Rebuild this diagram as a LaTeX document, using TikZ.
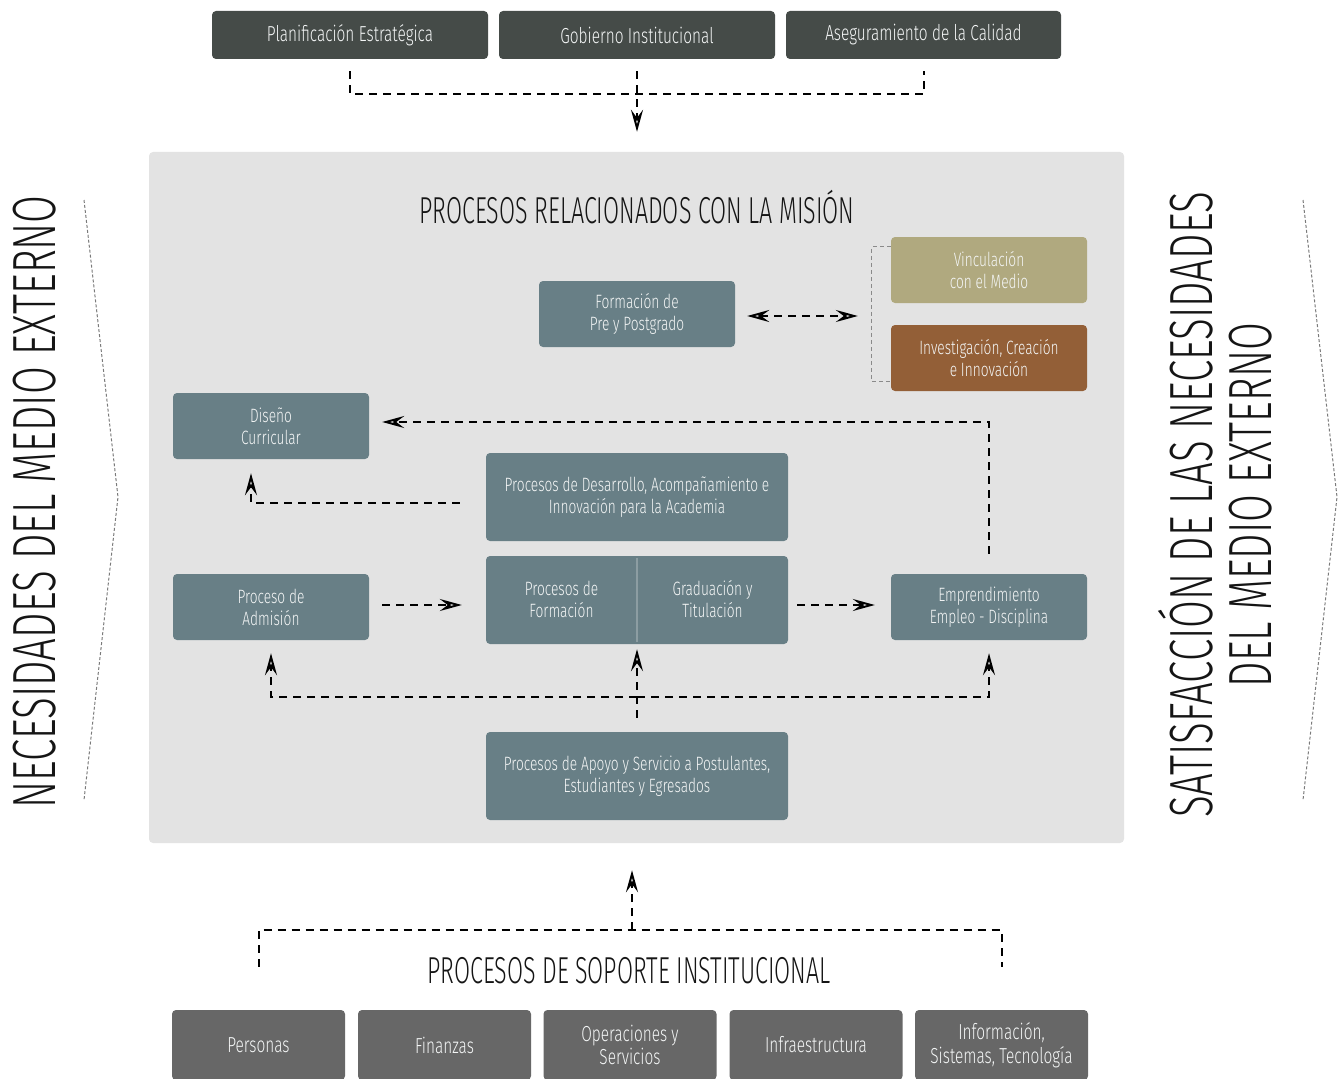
\documentclass[tikz,border=0pt]{standalone}
\usepackage{fontspec}
\setmainfont{Fira Sans Light}[FakeStretch=0.71]
\newfontfamily\capsfont{Fira Sans Light}[FakeStretch=0.62]
\newfontfamily\sidefont{Fira Sans Light}[FakeStretch=0.66]
\usetikzlibrary{arrows.meta,calc}
\definecolor{topgrey}{HTML}{454B48}
\definecolor{panelgrey}{HTML}{E3E3E3}
\definecolor{slate}{HTML}{687F86}
\definecolor{khaki}{HTML}{B0A97F}
\definecolor{brown}{HTML}{935F37}
\definecolor{basegrey}{HTML}{676767}
\definecolor{boxtext}{HTML}{F4F6F6}
\definecolor{divider}{HTML}{8C9DA2}
\definecolor{bracketgrey}{HTML}{8A8A8A}
\definecolor{chevgrey}{HTML}{7A7A7A}
\definecolor{titleink}{HTML}{151515}
\tikzset{
  hollow/.tip={Stealth[open,fill=white,length=22pt,width=12pt,inset=8pt,line width=2pt]},
  box/.style={rounded corners=4pt, inner sep=0pt, align=center, text=boxtext,
              font=\fontsize{19.3}{22}\selectfont},
  slatebox/.style={box, fill=slate, minimum width=196pt, minimum height=66pt},
  widebox/.style={box, fill=slate, minimum width=302pt, minimum height=88pt},
  topbox/.style={box, fill=topgrey, minimum width=276pt, minimum height=48pt,
                 font=\fontsize{21.7}{24}\selectfont},
  basebox/.style={box, fill=basegrey, minimum width=173pt, minimum height=70pt,
                  font=\fontsize{21.7}{23.5}\selectfont},
  conn/.style={draw=black, line width=2pt, dash pattern=on 8pt off 6pt},
  bracket/.style={draw=bracketgrey, line width=1.3pt, dash pattern=on 4pt off 3pt},
  chev/.style={draw=chevgrey, line width=1pt, dash pattern=on 3pt off 2pt},
  heading/.style={text=titleink, inner sep=0pt, font=\capsfont\fontsize{37.5}{40}\selectfont},
  sidetext/.style={text=titleink, inner sep=0pt, align=center, rotate=90,
                   font=\sidefont\fontsize{61}{59}\selectfont}
}
\begin{document}
\begin{tikzpicture}[x=1pt,y=1pt]
\useasboundingbox (0,0) rectangle (1340,-1078);

% strategic processes
\node[topbox] (plan) at (350,-35) {Planificación Estratégica};
\node[topbox] (gob)  at (637,-35) {Gobierno Institucional};
\node[topbox, minimum width=275pt] (aseg) at (923.5,-35) {Aseguramiento de la Calidad};

% mission panel
\node[fill=panelgrey, rounded corners=4pt, inner sep=0pt,
      minimum width=975pt, minimum height=691pt] (panel) at (636.5,-497.5) {};
\node[heading] (mision) at (637,-207) {PROCESOS RELACIONADOS CON LA MISIÓN};

\node[slatebox] (form) at (637,-314) {Formación de\\Pre y Postgrado};
\node[slatebox, fill=khaki] (vinc) at (989,-270) {Vinculación\\con el Medio};
\node[slatebox, fill=brown] (inv) at (989,-358) {Investigación, Creación\\e Innovación};
\node[slatebox] (dis) at (271,-426) {Diseño\\Curricular};
\node[widebox] (desa) at (637,-497) {Procesos de Desarrollo, Acompañamiento e\\Innovación para la Academia};
\node[widebox] (formgrad) at (637,-600) {};
\node[box] (pf) at (561.5,-599) {Procesos de\\Formación};
\node[box] (grad) at (712.5,-599) {Graduación y\\Titulación};
\draw[divider, line width=1.2pt] ([yshift=-2pt]formgrad.north) -- ([yshift=2pt]formgrad.south);
\node[slatebox] (adm) at (271,-607) {Proceso de\\Admisión};
\node[slatebox] (emp) at (989,-607) {Emprendimiento\\Empleo - Disciplina};
\node[widebox] (apoyo) at (637,-776) {Procesos de Apoyo y Servicio a Postulantes,\\Estudiantes y Egresados};

% support processes
\node[heading] (soporte) at (629,-971) {PROCESOS DE SOPORTE INSTITUCIONAL};
\node[basebox] (pers)  at (258.5,-1045) {Personas};
\node[basebox] (fin)   at (444.5,-1045) {Finanzas};
\node[basebox] (oper)  at (630,-1045) {Operaciones y\\Servicios};
\node[basebox] (infra) at (816,-1045) {Infraestructura};
\node[basebox] (info)  at (1001.5,-1045) {Información,\\Sistemas, Tecnología};

% side captions
\node[sidetext] (necesidades) at (35,-502) {NECESIDADES DEL MEDIO EXTERNO};
\node[sidetext] (satisfaccion) at (1215,-505) {SATISFACCIÓN DE LAS NECESIDADES\\DEL MEDIO EXTERNO};
\draw[chev] (84,-200) -- (118,-497) -- (84,-800);
\draw[chev] (1303,-200) -- (1337,-497) -- (1303,-800);

% connectors: strategic processes into the panel
\draw[conn] ([yshift=-12pt]plan.south) -- ++(0,-23) -| ([yshift=-12pt]aseg.south);
\draw[conn,-hollow] ([yshift=-12pt]gob.south) -- ($(gob.south |- panel.north)+(0,20)$);

% research / outreach bracket
\draw[bracket] ([yshift=-10pt]vinc.north west) -- ++(-19,0) |- ([yshift=10pt]inv.south west);
\coordinate (brk) at ($(vinc.west)!0.5!(inv.west)+(-19,0)$);
\draw[conn,hollow-hollow] ([xshift=12pt,yshift=-2pt]form.east) -- ([xshift=-14pt,yshift=-2pt]brk);

% feedback loops towards curricular design
\draw[conn,-hollow] ([yshift=20pt]emp.north) |- ([xshift=13pt,yshift=4pt]dis.east);
\draw[conn,-hollow] ([xshift=-26pt,yshift=-6pt]desa.west) -| ([xshift=-20pt,yshift=-14pt]dis.south);

% main flow
\draw[conn,-hollow] ([xshift=13pt,yshift=2pt]adm.east) -- ([xshift=-24pt,yshift=2pt]adm.east -| formgrad.west);
\draw[conn,-hollow] ([xshift=9pt,yshift=2pt]emp.west -| formgrad.east) -- ([xshift=-16pt,yshift=2pt]emp.west);

% support services bus
\coordinate (bus) at ($(apoyo.north)+(0,35)$);
\draw[conn,-hollow] ([yshift=14pt]apoyo.north) -- ([yshift=-5pt]formgrad.south);
\draw[conn,-hollow] (bus) -| ([yshift=-13pt]adm.south);
\draw[conn,-hollow] (bus) -| ([yshift=-13pt]emp.south);

% institutional support into the panel
\coordinate (sbus) at (632,-930);
\draw[conn] ([yshift=43pt]pers.north) |- (sbus) -| ([yshift=43pt]info.north);
\draw[conn,-hollow] (sbus) -- ($(sbus |- panel.south)+(0,-27)$);
\end{tikzpicture}
\end{document}
